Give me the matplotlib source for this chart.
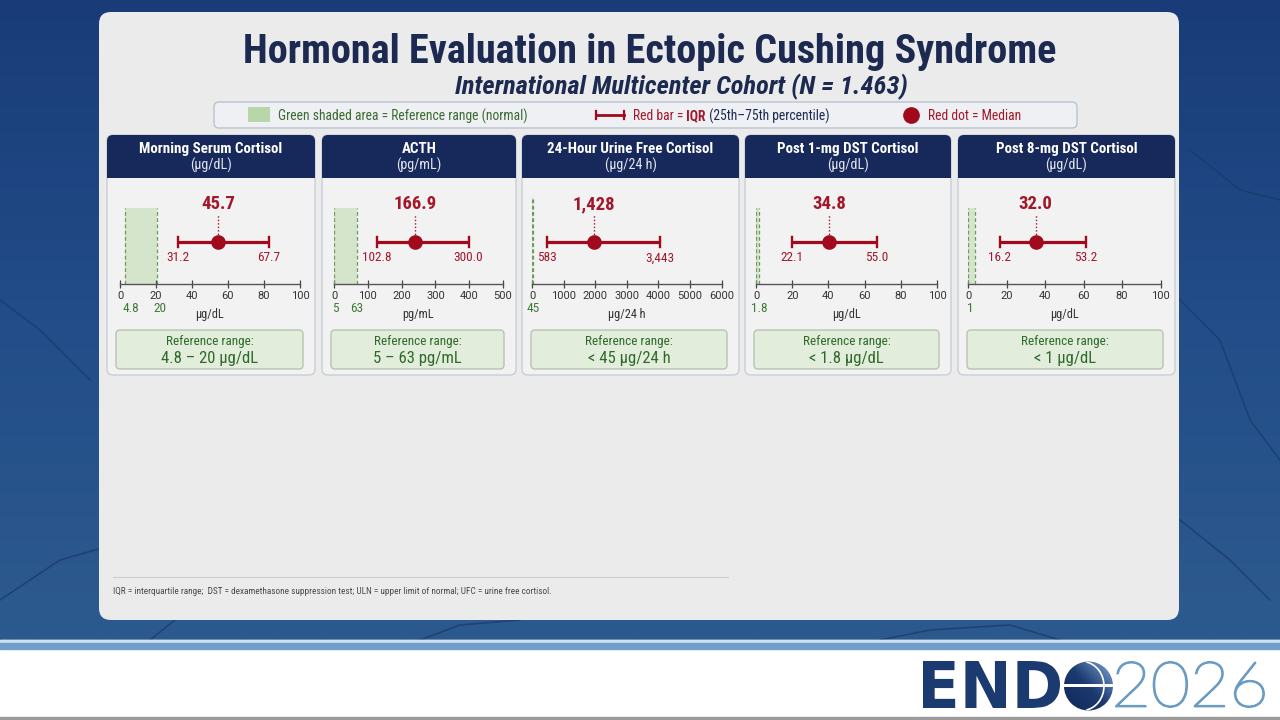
import numpy as np
import matplotlib
matplotlib.use('Agg')
import matplotlib.pyplot as plt
from matplotlib.patches import FancyBboxPatch, Rectangle, Circle, PathPatch, Arc
from matplotlib.textpath import TextPath
from matplotlib.font_manager import FontProperties
from matplotlib.transforms import Affine2D

W, H = 1280, 720
COND = ['Roboto Condensed', 'Liberation Sans Narrow', 'Roboto', 'DejaVu Sans']
PLAIN = ['Roboto', 'DejaVu Sans']
plt.rcParams['font.family'] = COND

# -------------------------------------------------------
# data
# -------------------------------------------------------
panel_titles = ['Morning Serum Cortisol', 'ACTH', '24-Hour Urine Free Cortisol',
                'Post 1-mg DST Cortisol', 'Post 8-mg DST Cortisol']
panel_units = ['(µg/dL)', '(pg/mL)', '(µg/24 h)', '(µg/dL)', '(µg/dL)']
axis_units = ['µg/dL', 'pg/mL', 'µg/24 h', 'µg/dL', 'µg/dL']
x_max = [100, 500, 6000, 100, 100]
x_step = [20, 100, 1000, 20, 20]

median_labels = ['45.7', '166.9', '1,428', '34.8', '32.0']
q1_labels = ['31.2', '102.8', '583', '22.1', '16.2']
q3_labels = ['67.7', '300.0', '3,443', '55.0', '53.2']

# where the marks sit on each axis
median_pos = [54.5, 241, 1954, 40.4, 35.2]
q1_pos = [32.2, 127, 475, 20, 16.5]
q3_pos = [82.5, 398, 4045, 66.6, 61.2]

# green reference band as drawn
shade_lo = [2.8, 0, 0, 0, 0]
shade_hi = [20.7, 68, 45, 1.8, 3.6]
ref_marks = [['4.8', '20'], ['5', '63'], ['45'], ['1.8'], ['1']]
ref_mark_pos = [[6, 22], [5, 67], [45], [1.8], [1]]
ref_text = ['4.8 – 20 µg/dL', '5 – 63 pg/mL', '< 45 µg/24 h', '< 1.8 µg/dL', '< 1 µg/dL']

# -------------------------------------------------------
# layout (pixels)
# -------------------------------------------------------
panel_x0 = [107, 322, 522, 745, 958]
panel_x1 = [315, 516, 739, 951, 1175]
axis_x0 = [120, 334, 532, 756, 968]
axis_x1 = [300, 503, 721.5, 937, 1160.5]
shade_top = [208, 208, 197, 208, 208]
BASE, TOP = 284, 195

NAVY = '#17285a'
RED = '#a3172b'
DOT = '#a00a1c'
GREEN_TXT = '#2f6a2a'

fig = plt.figure(figsize=(12.8, 7.2), dpi=100)
bg = fig.add_axes([0, 0, 1, 1])
bg.set_xlim(0, W)
bg.set_ylim(H, 0)
bg.axis('off')

# blue backdrop
grad = np.linspace(0, 1, 256).reshape(-1, 1)
bg.imshow(grad, extent=[0, W, 640, 0], cmap=matplotlib.colors.LinearSegmentedColormap.from_list(
    'bl', ['#193c78', '#224d88', '#2d5a8e']), aspect='auto', zorder=0)
for xs, ys in [([0, 60, 130, 170], [600, 560, 540, 470]),
               ([150, 200, 260, 330], [640, 600, 580, 560]),
               ([1180, 1220, 1250, 1280], [300, 340, 420, 460]),
               ([1180, 1230, 1270], [520, 560, 600]),
               ([420, 460, 520], [640, 625, 620]),
               ([880, 930, 1010, 1060], [640, 630, 625, 640]),
               ([0, 40, 90], [300, 330, 380]),
               ([1190, 1240, 1280], [150, 190, 200])]:
    bg.plot(xs, ys, color='#163a70', lw=1.2, alpha=0.7, zorder=0.5)

bg.add_patch(Rectangle((0, 640), W, 80, color='white', zorder=0.6))
bg.add_patch(Rectangle((0, 640), W, 3, color='#cfe0f0', zorder=0.7))
bg.add_patch(Rectangle((0, 643), W, 6, color='#6f9dcc', zorder=0.7))
bg.add_patch(Rectangle((0, 717), W, 3, color='#9a9a9a', zorder=0.7))

# main card
bg.add_patch(FancyBboxPatch((99, 12), 1080, 608, boxstyle='round,pad=0,rounding_size=12',
                            fc='#ebebeb', ec='none', zorder=1))

# title
bg.text(650, 52, 'Hormonal Evaluation in Ectopic Cushing Syndrome', ha='center', va='center',
        fontsize=29, fontweight='bold', color='#1c2951', zorder=5)
bg.text(681, 87, 'International Multicenter Cohort (N = 1.463)', ha='center', va='center',
        fontsize=19, fontstyle='italic', fontweight='bold', color='#1c2951', zorder=5)

# legend strip
bg.add_patch(FancyBboxPatch((214, 102), 863, 26, boxstyle='round,pad=0,rounding_size=5',
                            fc='#eef0f3', ec='#b9c3d0', lw=1, zorder=2))
bg.add_patch(Rectangle((248, 107), 22, 15, fc='#b9d5aa', ec='none', zorder=3))
fig.canvas.draw()
rend = fig.canvas.get_renderer()


def text_run(x, y, pieces, size):
    for s, color, weight in pieces:
        t = bg.text(x, y, s, fontsize=size, color=color, fontweight=weight,
                    ha='left', va='center', zorder=5)
        x += t.get_window_extent(renderer=rend).width


text_run(278, 116, [('Green shaded area = Reference range (normal)', '#3a6b30', 'normal')], 9.8)
bg.plot([596, 624], [115, 115], color=DOT, lw=2, zorder=4)
bg.plot([596, 596], [111, 119], color=DOT, lw=1.6, zorder=4)
bg.plot([624, 624], [111, 119], color=DOT, lw=1.6, zorder=4)
text_run(633, 116, [('Red bar =', RED, 'normal'), (' IQR', RED, 'bold'),
                    (' (25th–75th percentile)', '#1c2951', 'normal')], 9.8)
bg.plot([911], [115], 'o', ms=11, color=DOT, zorder=4)
text_run(928, 116, [('Red dot = Median', RED, 'normal')], 9.8)

# -------------------------------------------------------
# panels
# -------------------------------------------------------
for i in range(5):
    x0, x1 = panel_x0[i], panel_x1[i]
    bg.add_patch(FancyBboxPatch((x0, 135), x1 - x0, 240, boxstyle='round,pad=0,rounding_size=6',
                                fc='#f2f2f2', ec='#c8ced8', lw=1, zorder=2))
    bg.add_patch(FancyBboxPatch((x0, 135), x1 - x0, 43, boxstyle='round,pad=0,rounding_size=6',
                                fc=NAVY, ec='none', zorder=3))
    bg.add_patch(Rectangle((x0, 165), x1 - x0, 13, fc=NAVY, ec='none', zorder=3))
    xc = (x0 + x1) / 2
    bg.text(xc, 149, panel_titles[i], ha='center', va='center', fontsize=10.8,
            fontweight='bold', color='white', zorder=5)
    bg.text(xc, 165.5, panel_units[i], ha='center', va='center', fontsize=10.2,
            color='#e3e7f0', zorder=5)

    # reference box
    bg.add_patch(FancyBboxPatch((x0 + 9, 330), x1 - x0 - 21, 39,
                                boxstyle='round,pad=0,rounding_size=4',
                                fc='#e2eddb', ec='#b8c3b2', lw=1, zorder=3))
    rc = x0 + 9 + (x1 - x0 - 21) / 2
    bg.text(rc, 341.5, 'Reference range:', ha='center', va='center', fontsize=9.5,
            color=GREEN_TXT, zorder=5)
    bg.text(rc, 358, ref_text[i], ha='center', va='center', fontsize=12,
            color=GREEN_TXT, zorder=5)

    # axis
    ax = fig.add_axes([axis_x0[i] / W, 1 - BASE / H, (axis_x1[i] - axis_x0[i]) / W, (BASE - TOP) / H])
    ax.set_facecolor('none')
    ax.set_xlim(0, x_max[i])
    ax.set_ylim(0, BASE - TOP)
    for s in ['left', 'right', 'top']:
        ax.spines[s].set_visible(False)
    ax.spines['bottom'].set_color('#555555')
    ax.spines['bottom'].set_linewidth(1.0)
    ax.set_yticks([])
    ax.set_xticks(np.arange(0, x_max[i] + 1, x_step[i]))
    ax.tick_params(axis='x', direction='inout', length=6, width=0.9, colors='#444444',
                   labelsize=8, pad=2)
    for lbl in ax.get_xticklabels():
        lbl.set_family(PLAIN)
        lbl.set_color('#333333')

    st = BASE - shade_top[i]
    ax.axvspan(shade_lo[i], shade_hi[i], ymin=0, ymax=st / (BASE - TOP), color='#d5e5cb', lw=0)
    for v in (shade_lo[i], shade_hi[i]):
        ax.plot([v, v], [0, st], color='#6c9a60', lw=0.9, ls=(0, (3, 2)))

    yq = BASE - 242.5
    m = median_pos[i]
    ax.plot([m, m], [yq + 4, BASE - 214], color=RED, lw=1, ls=(0, (1, 1.5)))
    ax.plot([q1_pos[i], q3_pos[i]], [yq, yq], color=DOT, lw=2.3, solid_capstyle='butt')
    for v in (q1_pos[i], q3_pos[i]):
        ax.plot([v, v], [yq - 5, yq + 5], color=DOT, lw=1.7)
    ax.plot([m], [yq], 'o', ms=9.5, color=DOT, zorder=5)
    ax.text(m, BASE - 204, median_labels[i], ha='center', va='center', fontsize=13.5,
            fontweight='bold', color=RED)
    ax.text(q1_pos[i], BASE - 258, q1_labels[i], ha='center', va='center', fontsize=9.5, color=RED)
    ax.text(q3_pos[i], BASE - 258, q3_labels[i], ha='center', va='center', fontsize=9.5, color=RED)

    tr = ax.get_xaxis_transform()
    for lab, v in zip(ref_marks[i], ref_mark_pos[i]):
        ax.text(v, (BASE - 309) / (BASE - TOP), lab, transform=tr, ha='center', va='center',
                fontsize=9.5, color='#3d7a35')
    ax.text(0.5, (BASE - 315) / (BASE - TOP), axis_units[i], transform=ax.transAxes,
            ha='center', va='center', fontsize=8.8, color='#333333')

# footnote
bg.plot([113, 728], [577, 577], color='#cccccc', lw=0.8, zorder=3)
bg.text(113, 591, 'IQR = interquartile range;  DST = dexamethasone suppression test; '
        'ULN = upper limit of normal; UFC = urine free cortisol.',
        ha='left', va='center', fontsize=6.7, color='#4a4a4a', zorder=5)


# -------------------------------------------------------
# ENDO2026 mark
# -------------------------------------------------------
def fit_text(s, box, color, prop, stroke=0):
    p = TextPath((0, 0), s, prop=prop, size=50)
    ext = p.get_extents()
    sx = (box[1] - box[0]) / ext.width
    sy = (box[3] - box[2]) / ext.height
    tr = Affine2D().translate(-ext.x0, -ext.y0).scale(sx, -sy).translate(box[0], box[3])
    bg.add_patch(PathPatch(tr.transform_path(p), fc=color, ec=color if stroke else 'none',
                           lw=stroke, zorder=4))


fit_text('END', (923, 1060, 661, 708), '#1b3a70', FontProperties(family='DejaVu Sans', weight='bold'))
fit_text('2026', (1116, 1264, 662, 707), '#6a9bc3',
         FontProperties(family=['Lato', 'Roboto'], weight='light'), stroke=1.3)

globe = Circle((1088.5, 686), 24.5, transform=bg.transData)
gimg = np.linspace(0, 1, 64)
gg = np.add.outer(gimg, gimg[::-1]) / 2
im = bg.imshow(gg, extent=[1064, 1113, 711, 661], aspect='auto', zorder=4,
               cmap=matplotlib.colors.LinearSegmentedColormap.from_list('g', ['#7fa6d4', '#1b3a70', '#12275a']))
im.set_clip_path(globe)
band = Rectangle((1060, 684), 60, 3, fc='white', ec='none', zorder=4.5)
bg.add_patch(band)
band.set_clip_path(globe)
arc = Arc((1082, 686), 44, 49, theta1=-80, theta2=80, color='white', lw=1.2, zorder=4.6)
bg.add_patch(arc)
arc.set_clip_path(globe)

fig.savefig('out.png', dpi=100)
